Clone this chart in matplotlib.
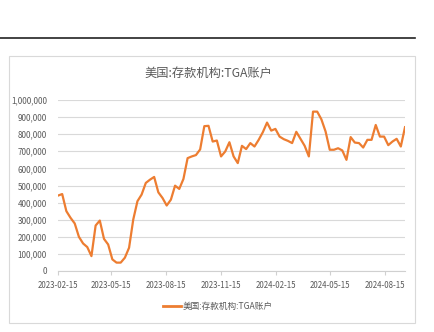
import numpy as np
import pandas as pd
import matplotlib
matplotlib.use('Agg')
import matplotlib.pyplot as plt
import matplotlib.dates as mdates
from matplotlib.ticker import FuncFormatter, MultipleLocator
from matplotlib.patches import Rectangle
from matplotlib.lines import Line2D

plt.rcParams['font.family'] = ['Noto Sans CJK SC', 'DejaVu Sans']

# 每周数据 (百万美元)
start_date = '2023-02-15'
tga_values = [441, 450, 350, 311, 278, 200, 161, 140, 87, 266,
              295, 188, 155, 68, 49, 49, 78, 136, 301, 408,
              447, 515, 534, 550, 460, 427, 383, 417, 499, 480,
              538, 660, 670, 678, 711, 847, 849, 757, 763, 670,
              699, 753, 670, 631, 732, 713, 748, 728, 767, 812,
              868, 821, 831, 786, 771, 761, 748, 814, 773, 732,
              670, 932, 932, 887, 816, 709, 709, 718, 705, 650,
              783, 751, 748, 722, 767, 767, 854, 786, 786, 736,
              757, 773, 728, 841]
tga_values = [v * 1000 for v in tga_values]
dates = pd.date_range(start_date, periods=len(tga_values), freq='7D')
tick_dates = pd.to_datetime(['2023-02-15', '2023-05-15', '2023-08-15', '2023-11-15',
                             '2024-02-15', '2024-05-15', '2024-08-15'])
title = '美国:存款机构:TGA账户'

W, H = 435, 332
fig = plt.figure(figsize=(W / 100, H / 100), dpi=100)

# 顶部黑线和外框
fig.add_artist(Line2D([0, 415 / W], [1 - 38 / H, 1 - 38 / H], color='#222222', lw=1.2))
fig.add_artist(Rectangle((9 / W, 1 - 323 / H), (415 - 9) / W, (323 - 56) / H,
                         transform=fig.transFigure, fill=False, ec='#d9d9d9', lw=0.8))

ax = fig.add_axes([58 / W, 1 - 271 / H, (405 - 58) / W, (271 - 100) / H])
ax.plot(dates, tga_values, color='#ED7D31', lw=1.6, solid_joinstyle='round')

ax.set_ylim(0, 1000000)
ax.set_xlim(dates[0], dates[-1])
ax.yaxis.set_major_locator(MultipleLocator(100000))
ax.yaxis.set_major_formatter(FuncFormatter(lambda v, p: f'{int(v):,}'))
ax.set_xticks(tick_dates)
ax.xaxis.set_major_formatter(mdates.DateFormatter('%Y-%m-%d'))
ax.grid(axis='y', color='#d9d9d9', lw=0.8)
ax.set_axisbelow(True)
for s in ['top', 'right', 'left']:
    ax.spines[s].set_visible(False)
ax.spines['bottom'].set_color('#d0d0d0')
ax.tick_params(axis='y', length=0, labelsize=5.8, labelcolor='#595959', pad=8)
ax.tick_params(axis='x', length=3, color='#d0d0d0', labelsize=5.7, labelcolor='#595959', pad=4)

fig.text(208 / W, 1 - 74 / H, title, ha='center', va='center', fontsize=8.8, color='#595959')

# 图例
fig.add_artist(Line2D([163 / W, 181 / W], [1 - 306 / H, 1 - 306 / H], color='#ED7D31', lw=2))
fig.text(183 / W, 1 - 306 / H, title, ha='left', va='center', fontsize=6.2, color='#595959')

fig.savefig('out.png', dpi=100)
